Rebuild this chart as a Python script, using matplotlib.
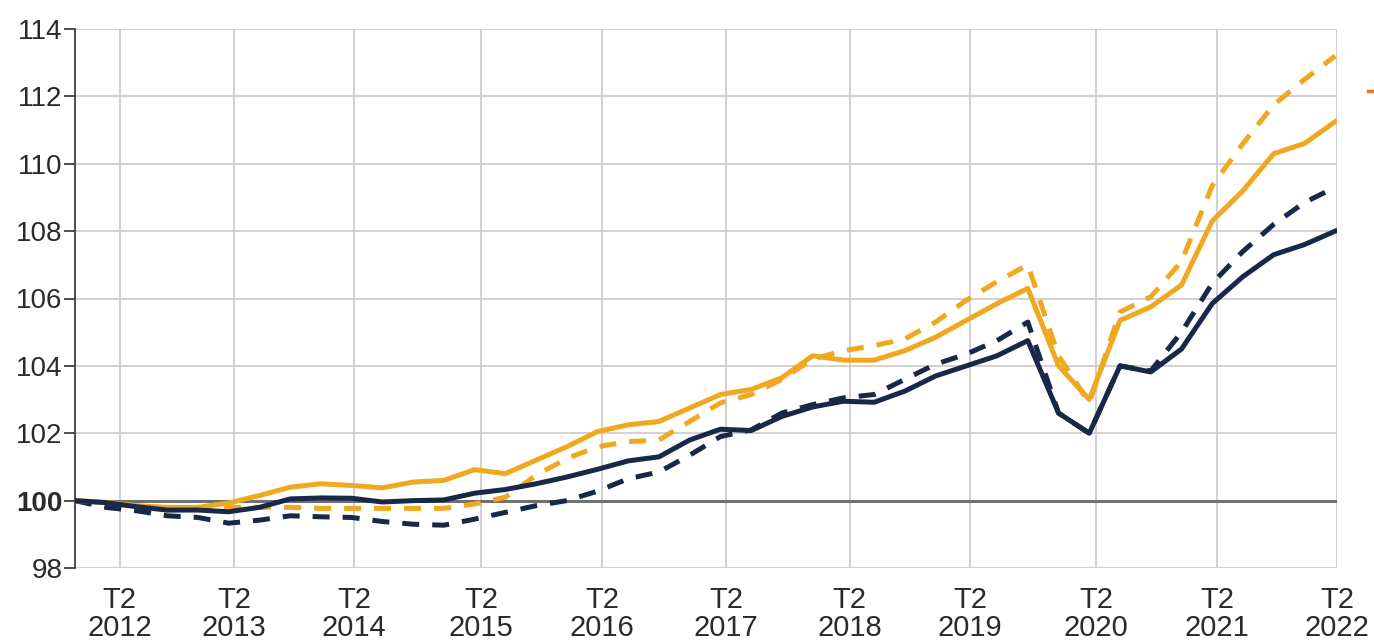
import numpy as np
import matplotlib
matplotlib.use("Agg")
import matplotlib.pyplot as plt
from matplotlib.lines import Line2D

# quarterly series, T1 2012 .. T2 2022 (index 100 at start)
orange_solid = [100.0, 99.95, 99.85, 99.8, 99.8, 99.93, 100.15, 100.4, 100.5, 100.45,
                100.38, 100.55, 100.6, 100.92, 100.8, 101.2, 101.6, 102.05, 102.25, 102.35,
                102.75, 103.15, 103.3, 103.65, 104.3, 104.17, 104.17, 104.45, 104.85, 105.35,
                105.85, 106.3, 104.0, 103.0, 105.35, 105.75, 106.4, 108.3, 109.2, 110.3,
                110.6, 111.25]
orange_dashed = [100.0, 99.85, 99.7, 99.72, 99.75, 99.8, 99.8, 99.8, 99.77, 99.77,
                 99.77, 99.77, 99.77, 99.9, 100.1, 100.75, 101.25, 101.6, 101.75, 101.8,
                 102.35, 102.9, 103.15, 103.6, 104.2, 104.45, 104.6, 104.8, 105.3, 105.95,
                 106.5, 107.0, 104.3, 102.9, 105.6, 106.05, 107.1, 109.35, 110.6, 111.75,
                 112.5, 113.2]
navy_solid = [100.0, 99.94, 99.82, 99.72, 99.72, 99.67, 99.8, 100.05, 100.08, 100.07,
              99.96, 100.0, 100.02, 100.22, 100.33, 100.5, 100.7, 100.93, 101.18, 101.3,
              101.8, 102.12, 102.08, 102.5, 102.78, 102.95, 102.92, 103.25, 103.7, 104.0,
              104.3, 104.75, 102.6, 102.0, 104.0, 103.82, 104.5, 105.85, 106.65, 107.3,
              107.6, 108.0]
navy_dashed = [100.0, 99.8, 99.7, 99.55, 99.5, 99.33, 99.42, 99.55, 99.52, 99.5,
               99.38, 99.3, 99.27, 99.45, 99.65, 99.85, 100.0, 100.28, 100.65, 100.85,
               101.35, 101.9, 102.1, 102.6, 102.85, 103.05, 103.15, 103.6, 104.05, 104.35,
               104.75, 105.3, 102.6, 102.0, 104.0, 103.85, 105.0, 106.45, 107.4, 108.2,
               108.85, 109.3]
years = list(range(2012, 2023))
tick_labels = [f"T2\n{y}" for y in years]

# layout: where the T2 gridlines sit, in quarters from the first point
tick_pos = [1.46, 5.18, 9.08, 13.21, 17.15, 21.18, 25.21, 29.12, 33.22, 37.16, 41.06]

ORANGE = "#F0A820"
NAVY = "#172848"

x = np.arange(len(navy_solid))

fig = plt.figure(figsize=(13.74, 6.43), dpi=100)
ax = fig.add_axes([75 / 1374, 1 - 568 / 643, (1337 - 75) / 1374, (568 - 29) / 643])

ax.axhline(100, color="#707070", lw=2.2, zorder=2)

lw = 3.6
ax.plot(x, orange_dashed, color=ORANGE, lw=lw, dashes=(3.4, 2.6), zorder=3)
ax.plot(x, navy_dashed, color=NAVY, lw=lw, dashes=(3.4, 2.6), zorder=3)
ax.plot(x, orange_solid, color=ORANGE, lw=lw, zorder=4)
ax.plot(x, navy_solid, color=NAVY, lw=lw, zorder=4)

ax.set_xlim(0, 41.06)
ax.set_ylim(98, 114)
ax.set_yticks(np.arange(98, 115, 2))
ax.set_xticks(tick_pos)
ax.set_xticklabels(tick_labels, fontsize=21, family="Liberation Sans", linespacing=1.0,
                   color="#2A2A2A")
ax.tick_params(axis="x", length=0, pad=13)
ax.tick_params(axis="y", length=8, width=1.3, color="#404040", pad=1, labelsize=20)
for lab in ax.get_yticklabels():
    lab.set_family("Liberation Sans")
    lab.set_color("#2A2A2A")
    if lab.get_text() == "100":
        lab.set_fontweight("bold")

ax.grid(True, color="#CACACA", lw=1.2, zorder=0)
for s in ["top", "right", "bottom"]:
    ax.spines[s].set_visible(False)
ax.spines["left"].set_color("#404040")
ax.spines["left"].set_linewidth(1.3)
ax.set_axisbelow(True)

# legend fragment cut off at the right edge
fig.add_artist(Line2D([1368 / 1374, 1.0], [1 - 91 / 643, 1 - 91 / 643],
                      color="#E8781A", lw=2.5))

fig.savefig("out.png", dpi=100)
